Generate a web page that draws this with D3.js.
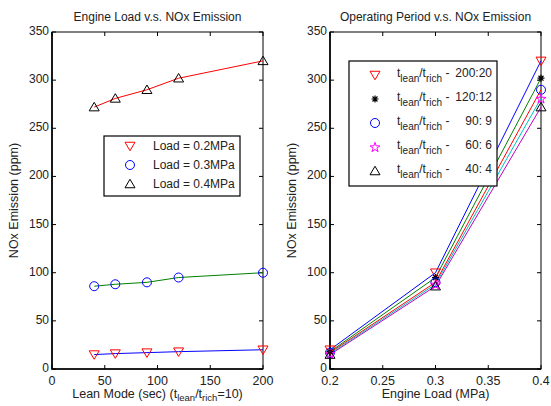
<!DOCTYPE html>
<html>
<head>
<meta charset="utf-8">
<script src="https://cdn.jsdelivr.net/npm/d3@7/dist/d3.min.js"></script>
<style>
  html, body { margin: 0; padding: 0; background: #fff; }
  svg { display: block; font-family: "Liberation Sans", Arial, sans-serif; }
  text { fill: #222; }
</style>
</head>
<body>
<svg id="chart" width="551" height="406"></svg>
<script>
// Lean-mode durations (sec) used in the left panel
const leanTimes = [40, 60, 90, 120, 200];
// NOx emission (ppm) per engine load, indexed by lean time
const nox02 = [15, 16, 17, 18, 20];
const nox03 = [86, 88, 90, 95, 100];
const nox04 = [272, 281, 290, 302, 320];

// Engine loads (MPa) used in the right panel
const engineLoads = [0.2, 0.3, 0.4];
// Lean/rich period labels in the right panel legend
const periodLabels = ["200:20", "120:12", " 90: 9", " 60: 6", " 40: 4"];

const xTicksLeft = [0, 50, 100, 150, 200];
const xTicksRight = [0.2, 0.25, 0.3, 0.35, 0.4];
const yTicks = [0, 50, 100, 150, 200, 250, 300, 350];

const svg = d3.select("#chart");

const symbolPaths = {
  down: r => `M${-r},${-r * 0.75}L${r},${-r * 0.75}L0,${r * 0.95}Z`,
  up: r => `M${-r},${r * 0.75}L${r},${r * 0.75}L0,${-r * 0.95}Z`,
};

function drawMarker(g, kind, x, y, color) {
  if (kind === "down" || kind === "up") {
    g.append("path").attr("d", symbolPaths[kind](5))
      .attr("transform", `translate(${x},${y})`)
      .attr("fill", "none").attr("stroke", color).attr("stroke-width", 1);
  } else if (kind === "circle") {
    g.append("circle").attr("cx", x).attr("cy", y).attr("r", 4.5)
      .attr("fill", "none").attr("stroke", color).attr("stroke-width", 1);
  } else if (kind === "star") {
    g.append("path").attr("d", d3.symbol(d3.symbolStar, 30)())
      .attr("transform", `translate(${x},${y + 0.5})`)
      .attr("fill", "none").attr("stroke", color).attr("stroke-width", 1);
  } else if (kind === "asterisk") {
    const r = 3.5, s = r * Math.SQRT1_2;
    g.append("path")
      .attr("d", `M${-r},0L${r},0M0,${-r}L0,${r}M${-s},${-s}L${s},${s}M${-s},${s}L${s},${-s}`)
      .attr("transform", `translate(${x},${y})`)
      .attr("fill", "none").attr("stroke", color).attr("stroke-width", 1.2);
  }
}

function drawAxes(g, x, y, xTicks, xFmt, title, xLabelParts) {
  const [x0, x1] = x.range();
  const [y1, y0] = y.range();
  const tickLen = 4;

  g.append("rect").attr("x", x0).attr("y", y0)
    .attr("width", x1 - x0).attr("height", y1 - y0)
    .attr("fill", "none").attr("stroke", "#000").attr("stroke-width", 1);
  // emphasise left & bottom axis lines
  g.append("path").attr("d", `M${x0},${y0}V${y1}H${x1}`)
    .attr("fill", "none").attr("stroke", "#000").attr("stroke-width", 1.6);

  // x ticks (bottom and mirrored on top)
  xTicks.forEach(t => {
    const px = x(t);
    g.append("line").attr("x1", px).attr("x2", px).attr("y1", y1).attr("y2", y1 - tickLen).attr("stroke", "#000");
    g.append("line").attr("x1", px).attr("x2", px).attr("y1", y0).attr("y2", y0 + tickLen).attr("stroke", "#000");
    g.append("text").attr("x", px).attr("y", y1 + 16)
      .attr("text-anchor", "middle").attr("font-size", 12.5).text(xFmt(t));
  });
  // y ticks (left and mirrored on right)
  yTicks.forEach(t => {
    const py = y(t);
    g.append("line").attr("x1", x0).attr("x2", x0 + tickLen).attr("y1", py).attr("y2", py).attr("stroke", "#000");
    g.append("line").attr("x1", x1).attr("x2", x1 - tickLen).attr("y1", py).attr("y2", py).attr("stroke", "#000");
    g.append("text").attr("x", x0 - 3).attr("y", py + 3)
      .attr("text-anchor", "end").attr("font-size", 12).text(t);
  });

  g.append("text").attr("x", (x0 + x1) / 2).attr("y", 21)
    .attr("text-anchor", "middle").attr("font-size", 12).text(title);

  g.append("text")
    .attr("transform", `translate(${x0 - 34},${(y0 + y1) / 2}) rotate(-90)`)
    .attr("text-anchor", "middle").attr("font-size", 12.5).text("NOx Emission (ppm)");

  const xl = g.append("text").attr("x", (x0 + x1) / 2).attr("y", 398)
    .attr("text-anchor", "middle").attr("font-size", 12.5);
  xLabelParts.forEach(p => {
    const ts = xl.append("tspan").text(p.t);
    if (p.sub) ts.attr("font-size", 9.5).attr("baseline-shift", "-30%");
  });
}

// ---------- Left panel: NOx vs lean mode duration ----------
const xL = d3.scaleLinear().domain([0, 200]).range([52, 263]);
const yS = d3.scaleLinear().domain([0, 350]).range([369, 32]);
const gL = svg.append("g");

drawAxes(gL, xL, yS, xTicksLeft, d3.format("d"), "Engine Load v.s. NOx Emission", [
  { t: "Lean Mode (sec) (t" }, { t: "lean", sub: true }, { t: "/t" }, { t: "rich", sub: true }, { t: "=10)" }
]);

const leftSeries = [
  { label: "Load = 0.2MPa", values: nox02, line: "#0000ff", marker: "down", mcolor: "#ff0000" },
  { label: "Load = 0.3MPa", values: nox03, line: "#008000", marker: "circle", mcolor: "#0000ff" },
  { label: "Load = 0.4MPa", values: nox04, line: "#ff0000", marker: "up", mcolor: "#000000" },
];
const lineL = d3.line().x((d, i) => xL(leanTimes[i])).y(d => yS(d));
leftSeries.forEach(s => {
  gL.append("path").attr("d", lineL(s.values)).attr("fill", "none")
    .attr("stroke", s.line).attr("stroke-width", 1);
  s.values.forEach((v, i) => drawMarker(gL, s.marker, xL(leanTimes[i]), yS(v), s.mcolor));
});

// legend
const legL = gL.append("g");
legL.append("rect").attr("x", 104).attr("y", 136).attr("width", 136).attr("height", 60)
  .attr("fill", "#fff").attr("stroke", "#000").attr("stroke-width", 1.2);
leftSeries.forEach((s, i) => {
  const cy = 146 + i * 19;
  drawMarker(legL, s.marker, 130, cy, s.mcolor);
  legL.append("text").attr("x", 153).attr("y", cy + 4).attr("font-size", 12).text(s.label);
});

// ---------- Right panel: NOx vs engine load ----------
const xR = d3.scaleLinear().domain([0.2, 0.4]).range([330, 541]);
const gR = svg.append("g");

drawAxes(gR, xR, yS, xTicksRight, d => String(+d.toFixed(2)), "Operating Period v.s. NOx Emission", [
  { t: "Engine Load (MPa)" }
]);

const byLoad = [nox02, nox03, nox04];
const rightSeries = [
  { idx: 4, line: "#0000ff", marker: "down", mcolor: "#ff0000" },
  { idx: 3, line: "#008000", marker: "asterisk", mcolor: "#000000" },
  { idx: 2, line: "#ff0000", marker: "circle", mcolor: "#0000ff" },
  { idx: 1, line: "#00bfbf", marker: "star", mcolor: "#ff00ff" },
  { idx: 0, line: "#bf00bf", marker: "up", mcolor: "#000000" },
];
rightSeries.forEach((s, k) => {
  s.values = byLoad.map(arr => arr[s.idx]);
  s.label = periodLabels[k];
});
const lineR = d3.line().x((d, i) => xR(engineLoads[i])).y(d => yS(d));
rightSeries.forEach(s => {
  gR.append("path").attr("d", lineR(s.values)).attr("fill", "none")
    .attr("stroke", s.line).attr("stroke-width", 1);
});
rightSeries.forEach(s => {
  s.values.forEach((v, i) => drawMarker(gR, s.marker, xR(engineLoads[i]), yS(v), s.mcolor));
});

// legend
const legR = gR.append("g");
legR.append("rect").attr("x", 349).attr("y", 61).attr("width", 148).attr("height", 125)
  .attr("fill", "#fff").attr("stroke", "#000").attr("stroke-width", 1.2);
rightSeries.forEach((s, i) => {
  const cy = 75 + i * 24;
  drawMarker(legR, s.marker, 375, cy, s.mcolor);
  const t = legR.append("text").attr("x", 397).attr("y", cy + 2).attr("font-size", 12);
  t.append("tspan").text("t");
  t.append("tspan").attr("font-size", 10).attr("dy", 5).text("lean");
  t.append("tspan").attr("dy", -5).text("/t");
  t.append("tspan").attr("font-size", 10).attr("dy", 5).text("rich");
  t.append("tspan").attr("dy", -5).text(" -");
  legR.append("text").attr("x", 492).attr("y", cy + 2).attr("font-size", 12)
    .attr("text-anchor", "end").attr("xml:space", "preserve").style("white-space", "pre")
    .text(s.label);
});
</script>
</body>
</html>
